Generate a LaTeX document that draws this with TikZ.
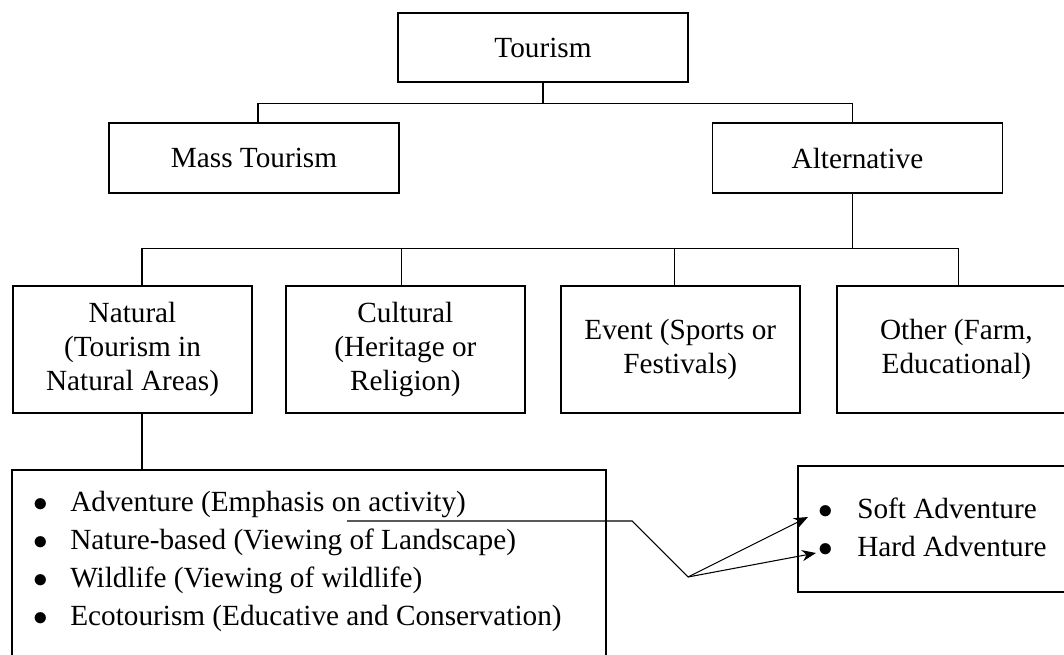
\documentclass[tikz,border=0pt]{standalone}
\usepackage{fontspec}
\setmainfont{Liberation Serif}
\usepackage{tikz}
\usetikzlibrary{positioning,calc,arrows.meta}

\begin{document}
\begin{tikzpicture}[x=0.025cm,y=-0.025cm,
		font=\fontsize{20.8}{24.5}\selectfont,
		box/.style={draw=black,line width=1.3pt,align=center,inner sep=0pt},
		link/.style={draw=black,line width=0.75pt},
		item/.style={anchor=base west,inner sep=0pt}]
		\useasboundingbox (0,0) rectangle (1064,655);
		\clip (0,0) rectangle (1064,655);
		
		\node[box,minimum width=7.25cm,minimum height=1.725cm] (tour) at (543,47.5) {Tourism};
		\node[box,minimum width=7.25cm,minimum height=1.75cm] (mass) at (254,158) {Mass Tourism};
		\node[box,minimum width=7.25cm,minimum height=1.75cm] (alt) at (857.5,158) {Alternative};
		
		\node[box,minimum width=5.975cm,minimum height=3.175cm] (nat) at (132.5,349.5) {Natural\\(Tourism in\\Natural Areas)};
		\node[box,minimum width=5.975cm,minimum height=3.175cm,right=0.8cm of nat] (cul) {Cultural\\(Heritage or\\Religion)};
		\node[box,minimum width=5.975cm,minimum height=3.175cm,right=0.85cm of cul] (evt) {Event (Sports or\\Festivals)};
		\node[box,minimum width=5.975cm,minimum height=3.175cm,right=0.88cm of evt] (oth) {Other (Farm,\\Educational)};
		
		\node[box,minimum width=14.85cm,minimum height=5.75cm] (list) at (309,585) {};
		\node[box,minimum width=7.5cm,minimum height=3.15cm] (adv) at (948,529) {};
		
		% list items
		\foreach \txt [count=\i] in {Adventure (Emphasis on activity),Nature-based (Viewing of Landscape),Wildlife (Viewing of wildlife),Ecotourism (Educative and Conservation)}
		\node[item] (it\i) at (33,{511+38.3*(\i-1)}) {\makebox[0.925cm][l]{$\bullet$}\txt};
		\node[item] (soft) at (818,518) {\makebox[0.975cm][l]{$\bullet$}Soft Adventure};
		\node[item] (hard) at (818,556) {\makebox[0.975cm][l]{$\bullet$}Hard Adventure};
		
		% tree connectors
		\coordinate (jt) at ($(tour.south)+(0,21)$);
		\draw[link] (tour.south)--(jt);
		\draw[link] ([shift={(4,0)}]mass.north) |- (jt) -| ([shift={(-5,0)}]alt.north);
		\coordinate (ja) at ($(alt.south)+(-5,55)$);
		\draw[link] ([shift={(-5,0)}]alt.south)--(ja);
		\draw[link] ([shift={(9.5,0)}]nat.north) |- (ja) -| ([shift={(2,0)}]oth.north);
		\draw[link] ([shift={(-4,0)}]cul.north)--([shift={(-4,0)}]cul.north|-ja);
		\draw[link] ([shift={(-6,0)}]evt.north)--([shift={(-6,0)}]evt.north|-ja);
		\draw[link] ([shift={(9.5,0)}]nat.south)--([shift={(9.5,0)}]nat.south|-list.north);
		
		% adventure arrows
		\coordinate (from) at (347,521);
		\coordinate (bend) at (632,521);
		\coordinate (fork) at (688,577);
		\coordinate[shift={(-10,-1)}] (softtip) at (soft.base west);
		\coordinate[shift={(-2,-3)}] (hardtip) at (hard.base west);
		\draw[link] (from)--(bend)--(fork);
		\draw[link,-{Stealth[length=10pt,width=8pt]}] (fork)--(softtip);
		\draw[link,-{Stealth[length=10pt,width=8pt]}] (fork)--(hardtip);
	\end{tikzpicture}
\end{document}
